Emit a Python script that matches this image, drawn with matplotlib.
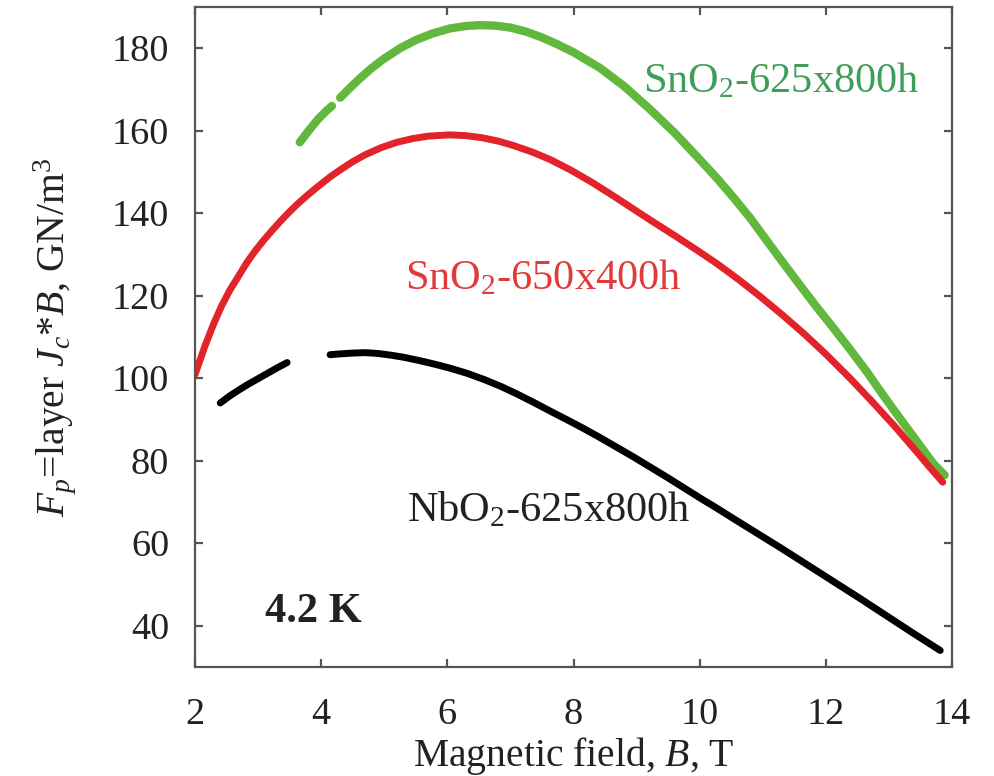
import numpy as np
import matplotlib
matplotlib.use("Agg")
import matplotlib.pyplot as plt

plt.rcParams['font.family'] = ['Liberation Serif', 'DejaVu Serif']
plt.rcParams['mathtext.fontset'] = 'custom'
plt.rcParams['mathtext.rm'] = 'Liberation Serif'
plt.rcParams['mathtext.it'] = 'Liberation Serif:italic'
plt.rcParams['mathtext.bf'] = 'Liberation Serif:bold'

# SnO2-625x800h (green), two pieces
sn625_b1 = [3.66, 3.80, 3.95, 4.08, 4.17]
sn625_f1 = [157.2, 160.0, 162.8, 164.8, 166.0]
sn625_b2 = [4.30, 4.45, 4.60, 4.80, 4.98, 5.25, 5.50, 5.75, 6.04, 6.30, 6.52, 6.75,
            7.00, 7.25, 7.50, 7.75, 8.00, 8.42, 8.80, 9.21, 9.60, 10.00, 10.27, 10.55,
            10.80, 11.05, 11.32, 11.60, 11.85, 12.10, 12.38, 12.65, 12.90, 13.17, 13.44,
            13.70, 13.88]
sn625_f2 = [168.0, 170.3, 172.5, 175.2, 177.3, 180.0, 182.0, 183.5, 184.8, 185.4, 185.6, 185.5,
            185.0, 184.0, 182.6, 180.9, 179.0, 175.2, 170.8, 165.2, 159.5, 153.0, 148.5, 143.5,
            138.8, 133.6, 128.0, 122.3, 117.3, 112.5, 107.0, 101.5, 96.0, 90.3, 84.7,
            79.3, 76.5]

# SnO2-650x400h (red)
sn650_b = [2.00, 2.15, 2.29, 2.42, 2.55, 2.70, 2.82, 2.95, 3.08, 3.22, 3.35, 3.50, 3.65,
           3.80, 3.95, 4.14, 4.30, 4.50, 4.70, 4.95, 5.20, 5.45, 5.70, 6.04, 6.30, 6.55,
           6.80, 7.05, 7.35, 7.63, 7.95, 8.30, 8.62, 8.94, 9.25, 9.60, 9.95, 10.27, 10.60,
           10.95, 11.32, 11.65, 12.00, 12.38, 12.72, 13.08, 13.44, 13.65, 13.85]
sn650_f = [100.9, 107.5, 113.0, 117.5, 121.3, 125.0, 128.0, 130.8, 133.3, 135.8, 138.0, 140.4, 142.6,
           144.6, 146.5, 148.8, 150.5, 152.5, 154.2, 155.9, 157.2, 158.1, 158.7, 159.0, 158.8, 158.3,
           157.5, 156.4, 154.8, 153.0, 150.5, 147.4, 144.3, 141.1, 138.0, 134.6, 131.1, 127.8, 124.1,
           119.9, 115.2, 110.8, 105.8, 100.0, 94.5, 88.5, 82.1, 78.3, 74.8]

# NbO2-625x800h (black), two pieces
nb_b1 = [2.40, 2.55, 2.70, 2.85, 3.00, 3.15, 3.30, 3.46]
nb_f1 = [94.0, 95.7, 97.2, 98.6, 99.9, 101.2, 102.5, 103.8]
nb_b2 = [4.14, 4.30, 4.50, 4.70, 4.90, 5.10, 5.30, 5.55, 5.80, 6.05, 6.31, 6.58, 6.85,
         7.10, 7.36, 7.62, 7.90, 8.16, 8.42, 8.68, 8.94, 9.21, 9.48, 9.74, 10.00, 10.27,
         10.53, 10.92, 11.30, 11.70, 12.11, 12.53, 12.95, 13.38, 13.81]
nb_f2 = [105.7, 105.9, 106.1, 106.2, 106.0, 105.6, 105.1, 104.3, 103.4, 102.4, 101.2, 99.7, 98.0,
         96.2, 94.2, 92.1, 89.9, 87.8, 85.6, 83.3, 81.0, 78.5, 76.0, 73.5, 71.0, 68.5,
         66.0, 62.3, 58.7, 54.8, 50.8, 46.7, 42.5, 38.2, 34.0]

xticks = [2, 4, 6, 8, 10, 12, 14]
yticks = [40, 60, 80, 100, 120, 140, 160, 180]

green = '#62b83c'
red = '#e2232a'
fs = 27.5     # ticks
fs_lab = 28.5  # axis titles
fs_ann = 30.5  # curve labels

fig = plt.figure(figsize=(9.95, 7.76), dpi=100)
ax = fig.add_axes([0.196, 0.1405, 0.761, 0.8505])

kw = dict(solid_capstyle='round', solid_joinstyle='round')
ax.plot(sn625_b1, sn625_f1, color=green, lw=6, **kw)
ax.plot(sn625_b2, sn625_f2, color=green, lw=6, **kw)
ax.plot(sn650_b, sn650_f, color=red, lw=5, **kw)
ax.plot(nb_b1, nb_f1, color='black', lw=5, **kw)
ax.plot(nb_b2, nb_f2, color='black', lw=5, **kw)

ax.text(9.1, 169.3, 'SnO$_2$-625x800h', color='#3f9e5a', fontsize=fs_ann, va='baseline')
ax.text(5.33, 121.5, 'SnO$_2$-650x400h', color='#e23a3a', fontsize=fs_ann, va='baseline')
ax.text(5.36, 65.2, 'NbO$_2$-625x800h', color='#222222', fontsize=fs_ann, va='baseline')
ax.text(3.11, 40.9, '4.2 K', color='#222222', fontsize=fs_ann, fontweight='bold', va='baseline')

ax.set_xlim(2, 14)
ax.set_ylim(30, 190)
ax.set_xticks(xticks)
ax.set_yticks(yticks)

for s in ax.spines.values():
    s.set_color('#555555')
    s.set_linewidth(1.6)
ax.tick_params(direction='in', length=6, width=1.6, color='#555555',
               top=True, right=True, labelsize=fs, labelcolor='#222222')
ax.tick_params(axis='x', pad=22)
ax.tick_params(axis='y', pad=18.5)

ax.set_xlabel('Magnetic field, $B$, T', fontsize=fs_lab, color='#222222', labelpad=2)
ax.set_ylabel('$F_p$=layer $J_c$*$B$, GN/m$^3$', fontsize=fs_lab, color='#222222', labelpad=24)

fig.savefig('out.png', dpi=100, facecolor='white')
